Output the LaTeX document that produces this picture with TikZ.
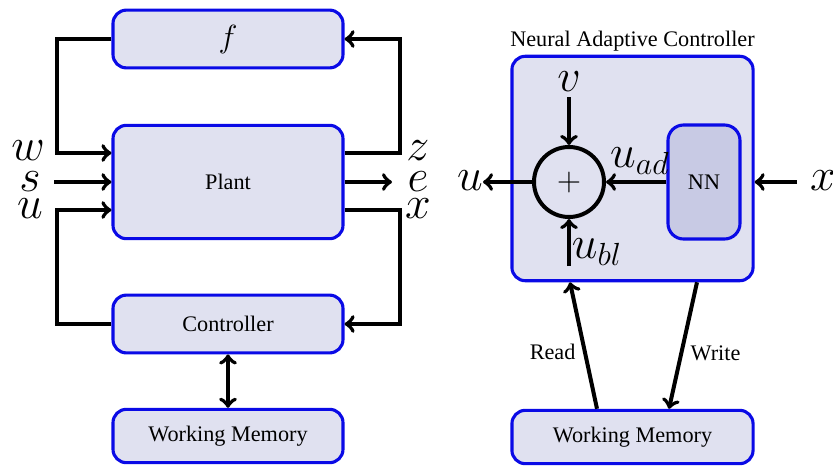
\documentclass[tikz,border=0pt]{standalone}
\usepackage{fontspec}
\setmainfont{Liberation Serif}
\usetikzlibrary{calc}
\definecolor{boxblue}{RGB}{10,10,230}
\definecolor{boxfill}{RGB}{224,225,240}
\definecolor{nnfill}{RGB}{200,202,228}
\begin{document}
\begin{tikzpicture}[x=0.45pt,y=-0.45pt]
	\tikzstyle{block}=[rectangle, rounded corners=6pt, draw=boxblue, fill=boxfill, line width=1.4pt, minimum width=103.5pt, minimum height=26pt]
	\tikzstyle{sig}=[line width=1.8pt]
	\tikzstyle{lbl}=[font=\huge, inner sep=0pt]
	\useasboundingbox (0,0) rectangle (833,465);

	% plant with its feedback loops
	\draw node[block, font=\Large] at (228,39) (f) {$f$};
	\draw node[block, minimum height=51pt] at (228,182) (plant) {Plant};
	\draw node[block] at (228,324) (ctrl) {Controller};
	\draw node[block, minimum height=24pt] at (228,436) (mem1) {Working Memory};

	\coordinate (wl) at (57,153);
	\coordinate (ul) at (57,210);
	\coordinate (zr) at (400,153);
	\coordinate (xr) at (400,210);
	\coordinate (sin) at (54,182);
	\coordinate (eout) at (392,182);

	\draw [sig,->] (f.west) -| (wl) -- (wl -| plant.west);
	\draw [sig,->] (zr -| plant.east) -- (zr) |- (f.east);
	\draw [sig,->] (ctrl.west) -| (ul) -- (ul -| plant.west);
	\draw [sig,->] (xr -| plant.east) -- (xr) |- (ctrl.east);
	\draw [sig,->] (sin) -- (sin -| plant.west);
	\draw [sig,->] (plant.east |- eout) -- (eout);
	\draw [sig,<->] (ctrl) -- (mem1);

	\draw node[lbl] at (28,151) (wlab) {$w$};
	\draw node[lbl] at (30,182) (slab) {$s$};
	\draw node[lbl] at (30,209) (ulab) {$u$};
	\draw node[lbl] at (418,151) (zlab) {$z$};
	\draw node[lbl] at (418,182) (elab) {$e$};
	\draw node[lbl] at (418,209) (xlab) {$x$};

	% neural adaptive controller
	\draw node[block, minimum width=108.5pt, minimum height=101pt] at (632.5,168.5) (nac) {};
	\draw node[above, inner sep=1.5pt] at (nac.north) (title) {Neural Adaptive Controller};
	\draw node[circle, draw, sig, fill=boxfill, font=\Large, inner sep=0pt, minimum size=31.5pt] at (569,182) (sum) {$+$};
	\draw node[block, fill=nnfill, rounded corners=7pt, minimum width=32.4pt, minimum height=51.3pt] at (704,182) (nn) {NN};
	\draw node[block, minimum width=108.5pt, minimum height=24pt] at (632.5,437) (mem2) {Working Memory};

	\coordinate (vin) at (569,97);
	\coordinate (uout) at (483,182);
	\coordinate (xin) at (797,182);
	\coordinate (ublin) at (569,266);

	\draw [sig,->] (vin) -- (sum);
	\draw [sig,->] (nn) -- (sum);
	\draw [sig,->] (sum) -- (uout);
	\draw [sig,->] (xin) -- (nac.east |- xin);
	\draw [sig,->] (ublin) -- (sum);

	\draw node[lbl] at (569,82) (vlab) {$v$};
	\draw node[lbl] at (470,181) (uolab) {$u$};
	\draw node[lbl] at (823,181) (xilab) {$x$};
	\draw node[lbl] at (640,161) (uadlab) {$u_{ad}$};
	\draw node[lbl] at (597,252) (ubllab) {$u_{bl}$};

	\draw [sig,->] ($(mem2.north)+(-35.5,0)$) -- ($(nac.south)+(-62.5,0)$) node[pos=.45, left] {Read};
	\draw [sig,->] ($(nac.south)+(64.5,0)$) -- ($(mem2.north)+(36.5,0)$) node[pos=.56, right] {Write};
\end{tikzpicture}
\end{document}
